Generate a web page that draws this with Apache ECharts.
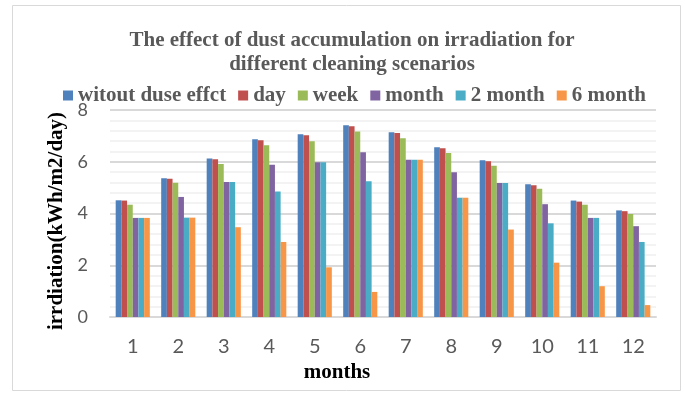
<!DOCTYPE html>
<html>
<head>
<meta charset="utf-8">
<script src="https://cdn.jsdelivr.net/npm/echarts@6/dist/echarts.min.js"></script>
<style>
  html, body { margin: 0; padding: 0; background: #fff; }
  #chart { width: 685px; height: 393px; }
</style>
</head>
<body>
<div id="chart"></div>
<script>
// Monthly irradiation (kWh/m2/day) under different panel cleaning intervals
const months = ['1', '2', '3', '4', '5', '6', '7', '8', '9', '10', '11', '12'];
const seriesNames = ['witout duse effct', 'day', 'week', 'month', '2 month', '6 month'];

const noDust   = [4.51, 5.36, 6.13, 6.87, 7.06, 7.41, 7.14, 6.56, 6.06, 5.13, 4.50, 4.12];
const daily    = [4.50, 5.34, 6.10, 6.83, 7.02, 7.37, 7.11, 6.52, 6.02, 5.09, 4.46, 4.09];
const weekly   = [4.34, 5.19, 5.91, 6.64, 6.79, 7.17, 6.91, 6.34, 5.85, 4.96, 4.34, 3.98];
const monthly  = [3.83, 4.64, 5.22, 5.88, 5.98, 6.37, 6.08, 5.59, 5.18, 4.36, 3.83, 3.51];
const twoMonth = [3.83, 3.84, 5.22, 4.85, 5.98, 5.25, 6.08, 4.61, 5.18, 3.62, 3.83, 2.90];
const sixMonth = [3.83, 3.84, 3.47, 2.90, 1.92, 0.97, 6.08, 4.61, 3.38, 2.10, 1.19, 0.46];

const colors = ['#4F81BD', '#C0504D', '#9BBB59', '#8064A2', '#4BACC6', '#F79646'];
const values = [noDust, daily, weekly, monthly, twoMonth, sixMonth];

const serif = '"Liberation Serif", "Times New Roman", serif';
const sans = 'Lato, "Open Sans", sans-serif';

const chart = echarts.init(document.getElementById('chart'), null, { renderer: 'canvas' });

chart.setOption({
  animation: false,
  color: colors,
  title: {
    text: 'The effect of dust accumulation on irradiation for\ndifferent cleaning scenarios',
    left: 347,
    textAlign: 'center',
    top: 24,
    textStyle: {
      fontFamily: serif,
      fontWeight: 'bold',
      fontSize: 21,
      lineHeight: 24,
      color: '#595959'
    }
  },
  legend: {
    left: 58,
    top: 80,
    icon: 'rect',
    itemWidth: 10,
    itemHeight: 10,
    itemGap: 12,
    itemTextGap: 5,
    data: seriesNames,
    textStyle: {
      fontFamily: serif,
      fontWeight: 'bold',
      fontSize: 21,
      color: '#595959'
    }
  },
  grid: { left: 110, right: 29, top: 110, bottom: 76 },
  xAxis: {
    type: 'category',
    data: months,
    axisLine: { lineStyle: { color: '#d9d9d9', width: 2 } },
    axisTick: { show: false },
    axisLabel: {
      margin: 20,
      fontFamily: sans,
      fontSize: 20,
      color: '#595959'
    }
  },
  yAxis: {
    type: 'value',
    min: 0,
    max: 8,
    interval: 2,
    axisLine: { show: false },
    axisTick: { show: false },
    axisLabel: {
      margin: 22,
      fontFamily: sans,
      fontSize: 18,
      color: '#595959'
    },
    splitLine: { lineStyle: { color: '#d9d9d9', width: 2 } },
    minorTick: { show: false, splitNumber: 5 },
    minorSplitLine: { show: true, lineStyle: { color: '#efefef', width: 1.5 } }
  },
  series: values.map((v, i) => ({
    name: seriesNames[i],
    type: 'bar',
    data: v,
    barGap: '0%',
    barCategoryGap: '25%',
    itemStyle: { color: colors[i] }
  })),
  graphic: [
    {
      type: 'rect',
      shape: { x: 12.5, y: 5.5, width: 668, height: 385 },
      style: { fill: 'none', stroke: '#d9d9d9', lineWidth: 1 },
      silent: true,
      z: -1
    },
    {
      type: 'text',
      x: 337,
      y: 373,
      style: {
        text: 'months',
        fontFamily: serif,
        fontWeight: 'bold',
        fontSize: 21,
        fill: '#000',
        align: 'center',
        verticalAlign: 'middle'
      }
    },
    {
      type: 'text',
      x: 57,
      y: 221,
      rotation: Math.PI / 2,
      style: {
        text: 'irrdiation(kWh/m2/day)',
        fontFamily: serif,
        fontWeight: 'bold',
        fontSize: 21,
        fill: '#000',
        align: 'center',
        verticalAlign: 'middle'
      }
    }
  ]
});
</script>
</body>
</html>
